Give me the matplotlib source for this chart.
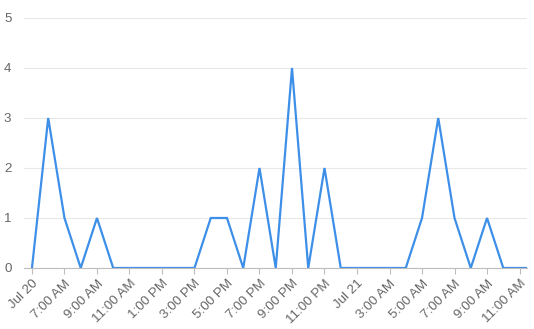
import matplotlib
matplotlib.use("Agg")
import matplotlib.pyplot as plt

# hourly counts, Jul 20 -> Jul 21
counts = [0, 3, 1, 0, 1, 0, 0, 0, 0, 0, 0, 1, 1, 0, 2, 0,
          4, 0, 2, 0, 0, 0, 0, 0, 1, 3, 1, 0, 1, 0, 0, 0]
tick_labels = ["Jul 20", "7:00 AM", "9:00 AM", "11:00 AM", "1:00 PM", "3:00 PM",
               "5:00 PM", "7:00 PM", "9:00 PM", "11:00 PM", "Jul 21", "3:00 AM",
               "5:00 AM", "7:00 AM", "9:00 AM", "11:00 AM"]
y_ticks = [0, 1, 2, 3, 4, 5]

plt.rcParams['font.family'] = ['Liberation Sans', 'DejaVu Sans']

fig = plt.figure(figsize=(5.34, 3.29), dpi=100)
ax = fig.add_axes([24 / 534, 61 / 329, 503 / 534, 250 / 329])

hours = list(range(len(counts)))
ax.plot(hours, counts, color='#3d8fe8', linewidth=1.6, solid_joinstyle='miter')

ax.set_xlim(-0.49, 30.46)
ax.set_ylim(0, 5)

ax.set_xticks(hours[::2][:len(tick_labels)])
ax.set_xticklabels(tick_labels, rotation=45, ha='right', rotation_mode='anchor',
                   fontsize=9.6, color='#666666')
ax.set_yticks(y_ticks)
ax.set_yticklabels([str(v) for v in y_ticks], fontsize=9.6, color='#666666')

ax.grid(axis='y', color='#e8e8e8', linewidth=0.8)
ax.set_axisbelow(True)
for side in ['top', 'right', 'left']:
    ax.spines[side].set_visible(False)
ax.spines['bottom'].set_color('#bdbdbd')
ax.spines['bottom'].set_linewidth(0.8)

ax.tick_params(axis='x', length=4, color='#bdbdbd', width=0.8, pad=3)
ax.tick_params(axis='y', length=0, pad=9)

fig.savefig("out.png", dpi=100)
